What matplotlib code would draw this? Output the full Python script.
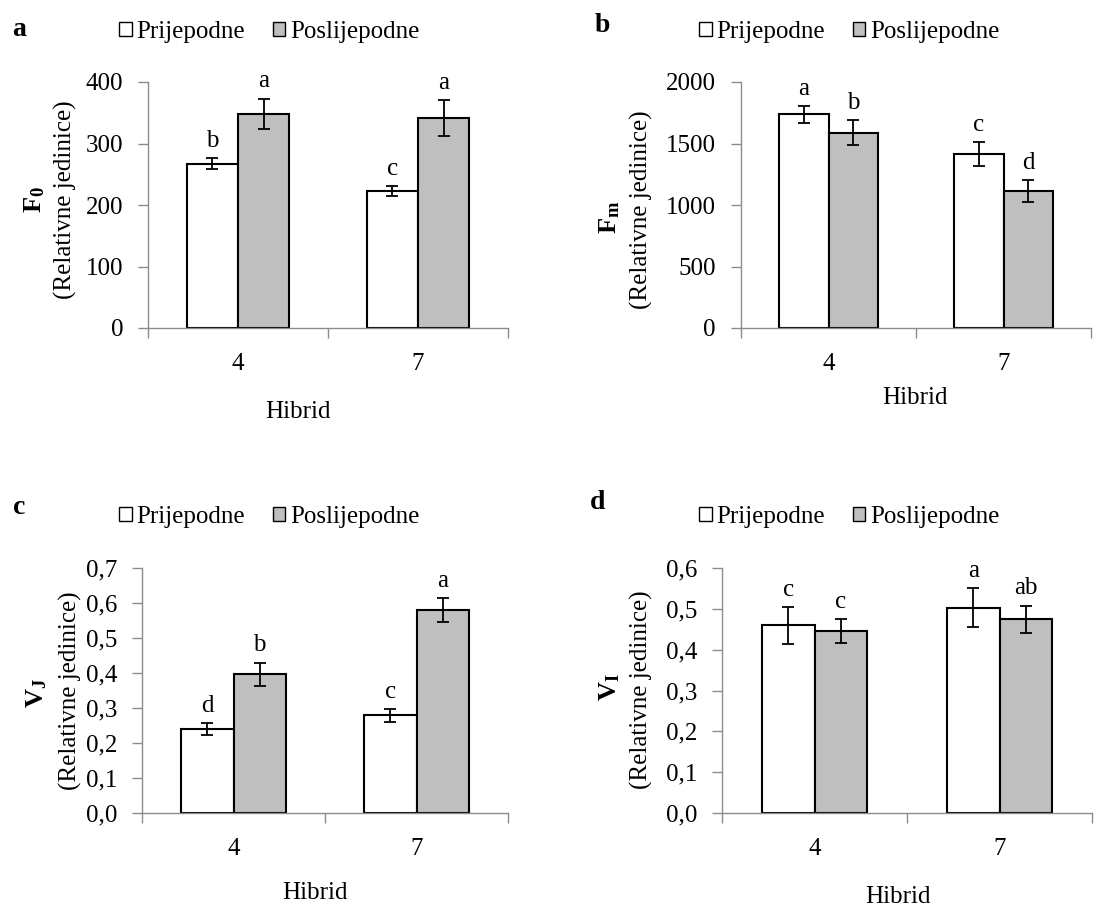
import numpy as np
import matplotlib
matplotlib.use('Agg')
import matplotlib.pyplot as plt
from matplotlib.patches import Patch
from matplotlib.ticker import FixedLocator, FuncFormatter

plt.rcParams['font.family'] = 'Liberation Serif'
plt.rcParams['mathtext.fontset'] = 'custom'
plt.rcParams['mathtext.rm'] = 'Liberation Serif'
plt.rcParams['mathtext.bf'] = 'Liberation Serif:bold'
FS = 18

# data
hybrids = ['4', '7']
series = ['Prijepodne', 'Poslijepodne']

f0_am = [267, 223]
f0_am_err = [9, 8]
f0_pm = [348, 341]
f0_pm_err = [25, 29]
f0_letters = [['b', 'c'], ['a', 'a']]

fm_am = [1737, 1415]
fm_am_err = [68, 100]
fm_pm = [1588, 1114]
fm_pm_err = [104, 90]
fm_letters = [['a', 'c'], ['b', 'd']]

vj_am = [0.240, 0.279]
vj_am_err = [0.016, 0.019]
vj_pm = [0.397, 0.580]
vj_pm_err = [0.033, 0.034]
vj_letters = [['d', 'c'], ['b', 'a']]

vi_am = [0.460, 0.503]
vi_am_err = [0.045, 0.047]
vi_pm = [0.445, 0.474]
vi_pm_err = [0.029, 0.034]
vi_letters = [['c', 'a'], ['c', 'ab']]

W, H = 1118, 909
fig = plt.figure(figsize=(W / 100, H / 100), dpi=100)
SPINE = '#8c8c8c'
GRAY = '#bfbfbf'


def px_axes(left, right, top, bottom):
    return fig.add_axes([left / W, 1 - bottom / H, (right - left) / W, (bottom - top) / H])


def panel(ax, am, am_err, pm, pm_err, letters, ymax, ystep, fmt):
    x = np.arange(len(hybrids))
    w = 0.285
    b1 = ax.bar(x - w / 2, am, w, color='white', edgecolor='black', linewidth=1.5,
                yerr=am_err, error_kw=dict(ecolor='black', elinewidth=1.3, capsize=4, capthick=1.3))
    b2 = ax.bar(x + w / 2, pm, w, color=GRAY, edgecolor='black', linewidth=1.5,
                yerr=pm_err, error_kw=dict(ecolor='black', elinewidth=1.3, capsize=4, capthick=1.3))
    for i in range(len(hybrids)):
        ax.annotate(letters[0][i], (x[i] - w / 2, am[i] + am_err[i]), xytext=(0, 8),
                    textcoords='offset points', ha='center', va='baseline', fontsize=FS)
        ax.annotate(letters[1][i], (x[i] + w / 2, pm[i] + pm_err[i]), xytext=(0, 8),
                    textcoords='offset points', ha='center', va='baseline', fontsize=FS)
    ax.set_xlim(-0.5, len(hybrids) - 0.5)
    ax.set_ylim(0, ymax)
    ax.set_yticks(np.arange(0, ymax + ystep / 2, ystep))
    ax.yaxis.set_major_formatter(FuncFormatter(fmt))
    ax.xaxis.set_major_locator(FixedLocator([-0.5, 0.5, 1.5]))
    ax.xaxis.set_major_formatter(FuncFormatter(lambda v, p: ''))
    ax.xaxis.set_minor_locator(FixedLocator(x))
    ax.set_xticks(x, hybrids, minor=True)
    ax.tick_params(axis='x', which='major', direction='out', length=7, color=SPINE, width=1)
    ax.tick_params(axis='x', which='minor', length=0, pad=18, labelsize=FS)
    ax.tick_params(axis='y', direction='out', length=7, color=SPINE, width=1, pad=11, labelsize=FS)
    for s in ['top', 'right']:
        ax.spines[s].set_visible(False)
    for s in ['left', 'bottom']:
        ax.spines[s].set_color(SPINE)
        ax.spines[s].set_linewidth(1)
    return b1, b2


int_fmt = lambda v, p: '%d' % v
dec_fmt = lambda v, p: ('%.1f' % v).replace('.', ',')

ax_a = px_axes(148, 508, 82, 328)
panel(ax_a, f0_am, f0_am_err, f0_pm, f0_pm_err, f0_letters, 400, 100, int_fmt)
ax_b = px_axes(741, 1091, 82, 328)
panel(ax_b, fm_am, fm_am_err, fm_pm, fm_pm_err, fm_letters, 2000, 500, int_fmt)
ax_c = px_axes(142, 508, 568, 813)
panel(ax_c, vj_am, vj_am_err, vj_pm, vj_pm_err, vj_letters, 0.7, 0.1, dec_fmt)
ax_d = px_axes(722, 1092, 568, 813)
panel(ax_d, vi_am, vi_am_err, vi_pm, vi_pm_err, vi_letters, 0.6, 0.1, dec_fmt)

handles = [Patch(facecolor='white', edgecolor='black', linewidth=1),
           Patch(facecolor=GRAY, edgecolor='black', linewidth=1)]


def fig_text(xp, yp, s, **kw):
    fig.text(xp / W, 1 - yp / H, s, **kw)


# panel letters, legends, axis titles
panels = [
    ('a', 19, 30, 119, 32, 298, 412, 35, 200, 65, 200, r'$\mathbf{F_0}$'),
    ('b', 602, 25, 699, 32, 915, 398, 610, 217, 641, 210, r'$\mathbf{F_m}$'),
    ('c', 19, 508, 119, 517, 315, 893, 37, 693, 70, 691, r'$\mathbf{V_J}$'),
    ('d', 598, 503, 699, 517, 898, 897, 610, 687, 641, 690, r'$\mathbf{V_I}$'),
]
for lab, lx, ly, gx, gy, hx, hy, vx, vy, rx, ry, yl in panels:
    fig_text(lx, ly, lab, fontsize=20, fontweight='bold', ha='center', va='center')
    fig.legend(handles, series, loc='center left', bbox_to_anchor=(gx / W, 1 - gy / H),
               ncol=2, frameon=False, fontsize=FS, handlelength=0.5, handleheight=0.5,
               handletextpad=0.2, columnspacing=1.1, borderpad=0, borderaxespad=0)
    fig_text(hx, hy, 'Hibrid', fontsize=FS, ha='center', va='center')
    fig_text(vx, vy, yl, fontsize=FS + 1, rotation=90, ha='center', va='center')
    fig_text(rx, ry, '(Relativne jedinice)', fontsize=FS, rotation=90, ha='center', va='center')

fig.savefig('out.png', dpi=100, facecolor='white')
